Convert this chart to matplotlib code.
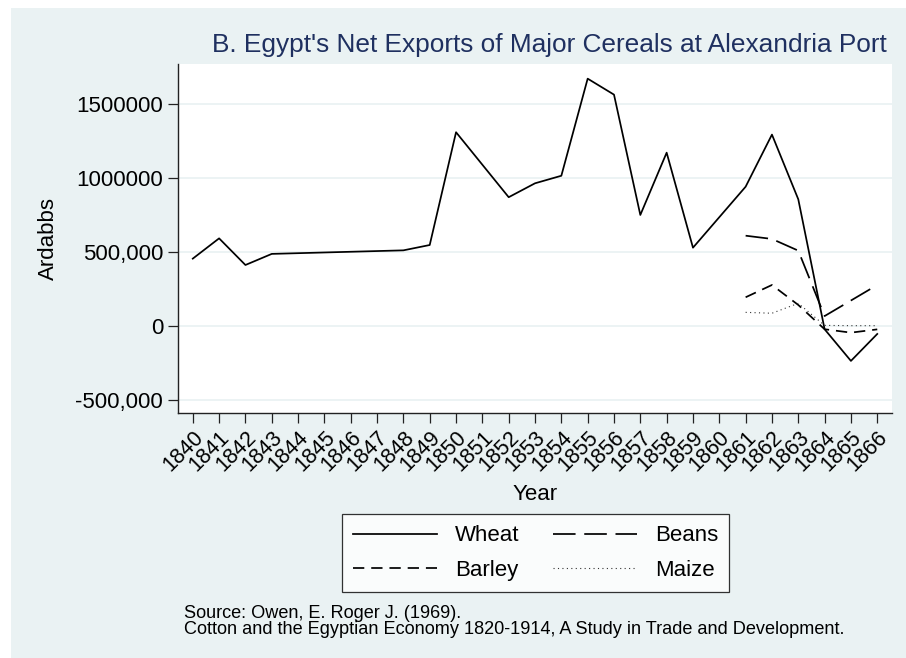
import numpy as np
import matplotlib
matplotlib.use("Agg")
import matplotlib.pyplot as plt
from matplotlib.patches import Rectangle

years = list(range(1840, 1867))
nan = np.nan
wheat = [453000, 590000, 410000, 485000, nan, nan, nan, nan, 509000, 545000,
         1307000, nan, 868000, 962000, 1013000, 1669000, 1561000, 748000,
         1169000, 527000, nan, 939000, 1291000, 854000, -24000, -238000, -56000]
beans = [nan] * 21 + [608000, 586000, 507000, 65000, nan, 275000]
barley = [nan] * 21 + [192000, 275000, 140000, -24000, -47000, -25000]
maize = [nan] * 21 + [90000, 84000, 151000, 2000, 0, 0]

yticks = [-500000, 0, 500000, 1000000, 1500000]
ytick_labels = ["-500,000", "0", "500,000", "1000000", "1500000"]

title = "B. Egypt's Net Exports of Major Cereals at Alexandria Port"
note = ("Source: Owen, E. Roger J. (1969).\n"
        "Cotton and the Egyptian Economy 1820-1914, A Study in Trade and Development.")

BG = "#eaf2f3"
W, H = 906, 658
plt.rcParams['font.family'] = ['Liberation Sans', 'DejaVu Sans']

fig = plt.figure(figsize=(W / 100, H / 100), dpi=100, facecolor="white")
fig.patches.append(Rectangle((11 / W, -0.02), 1.05, 1.02 - 8 / H, transform=fig.transFigure,
                             facecolor=BG, edgecolor="none", zorder=-10))

ax = fig.add_axes([178.3 / W, 1 - 413.3 / H, (892 - 178.3) / W, (413.3 - 64) / H])
ax.set_facecolor("white")


def plot_series(vals, **kw):
    x = np.array(years, dtype=float)
    v = np.array(vals, dtype=float)
    m = ~np.isnan(v)
    return ax.plot(x[m], v[m], **kw)[0]


lw = 1.25
h1 = plot_series(wheat, color="black", lw=lw, label="Wheat")
h2 = plot_series(beans, color="black", lw=lw, dashes=(13, 5), label="Beans")
h3 = plot_series(barley, color="black", lw=lw, dashes=(6.5, 4), label="Barley")
h4 = plot_series(maize, color="#333333", lw=0.8, dashes=(1, 3), label="Maize")

ax.set_xlim(1839.45, 1866.56)
ax.set_ylim(-592000, 1768000)
ax.set_xticks(years)
ax.set_xticklabels([str(y) for y in years], rotation=45, ha="right", va="top",
                   rotation_mode="anchor", fontsize=15.5)
ax.set_yticks(yticks)
ax.set_yticklabels(ytick_labels, fontsize=16)
ax.tick_params(axis="both", direction="out", length=7, width=0.9, color="#222222")
ax.tick_params(axis="x", pad=3)
ax.tick_params(axis="y", pad=4)
ax.grid(axis="y", color=BG, lw=1.3)
ax.set_axisbelow(True)
for s in ["top", "right"]:
    ax.spines[s].set_visible(False)
for s in ["left", "bottom"]:
    ax.spines[s].set_color("#222222")
    ax.spines[s].set_linewidth(1.0)

ax.set_xlabel("Year", fontsize=16, labelpad=6)
ax.set_ylabel("Ardabbs", fontsize=16, labelpad=12)

fig.text(549 / W, 1 - 45 / H, title, ha="center", va="center", fontsize=18.9, color="#1f3060")

leg = fig.legend([h1, h3, h2, h4], ["Wheat", "Barley", "Beans", "Maize"],
                 ncol=2, loc="center", bbox_to_anchor=(535.5 / W, 1 - 553 / H),
                 fontsize=16, frameon=True, fancybox=False, handlelength=3.8,
                 columnspacing=1.5, handletextpad=0.8, borderpad=0.5, labelspacing=0.6)
leg.get_frame().set_edgecolor("black")
leg.get_frame().set_linewidth(0.9)

fig.text(184 / W, 1 - 621.5 / H, note, ha="left", va="center", fontsize=13.1, linespacing=0.95)

fig.savefig("out.png", dpi=100, facecolor="white")
